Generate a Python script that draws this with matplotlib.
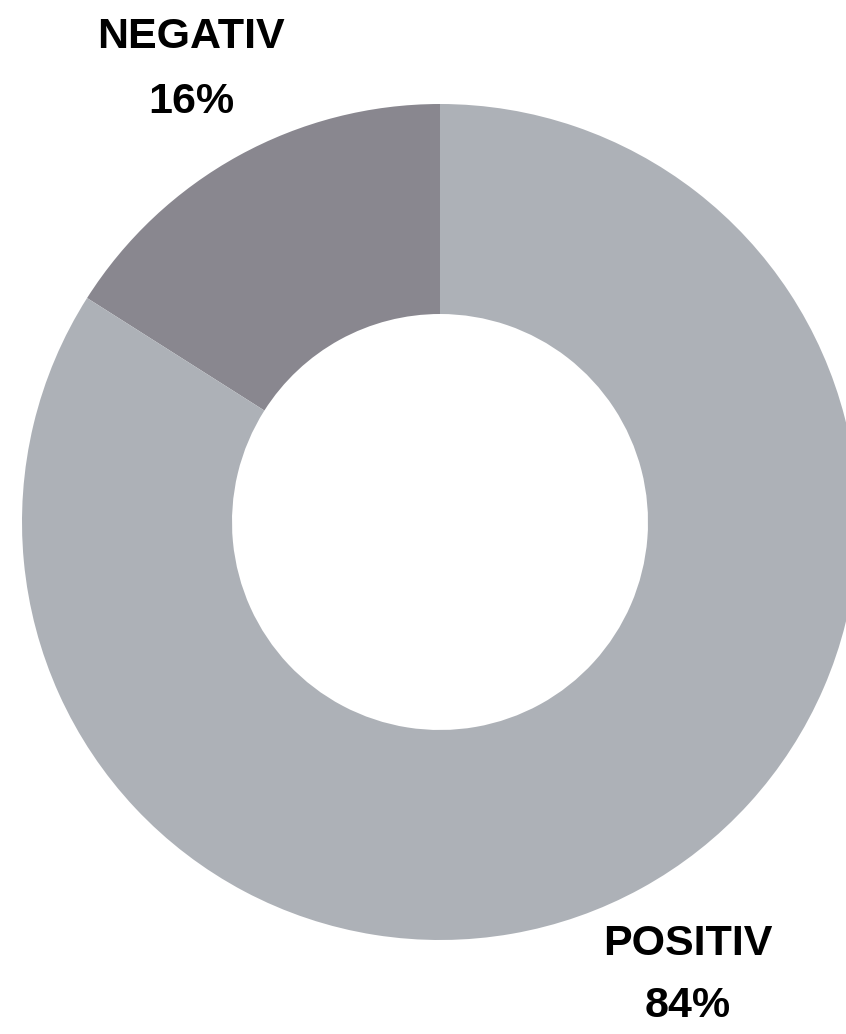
import matplotlib
matplotlib.use("Agg")
import matplotlib.pyplot as plt

labels = ["POSITIV", "NEGATIV"]
values = [84, 16]
colors = ["#adb1b7", "#89878f"]

W, H = 846, 1034

fig = plt.figure(figsize=(W / 100, H / 100), dpi=100)
ax = fig.add_axes([0, 0, 1, 1])

# donut, negative slice goes counter-clockwise from 12 o'clock
ax.pie(values[::-1], colors=colors[::-1], startangle=90, counterclock=True,
       center=(440, H - 522), radius=418, frame=True,
       wedgeprops=dict(width=210, linewidth=0))
ax.set_xlim(0, W)
ax.set_ylim(0, H)
ax.set_aspect("equal")
ax.axis("off")

font = dict(family="Liberation Sans", weight="bold", fontsize=31, color="black",
            ha="center", va="baseline")
ax.text(191, H - 48, labels[1], **font)
ax.text(191, H - 113, f"{values[1]}%", **font)
ax.text(688, H - 955, labels[0], **font)
ax.text(688, H - 1017, f"{values[0]}%", **font)

fig.savefig("out.png", dpi=100)
